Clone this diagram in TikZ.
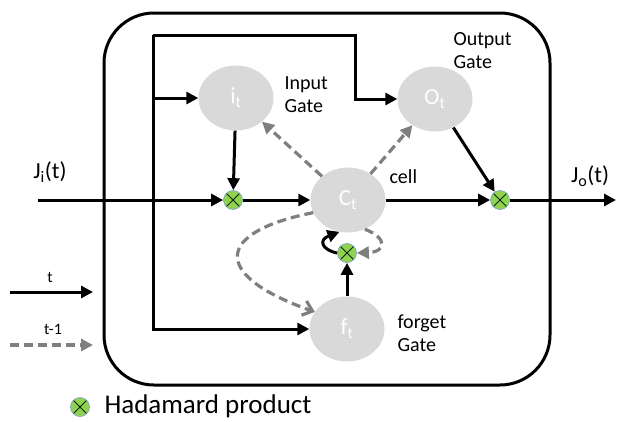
\documentclass[tikz,border=0pt]{standalone}
\usepackage{fontspec}
\setmainfont{Carlito}
\usetikzlibrary{arrows.meta,shapes.geometric}

\definecolor{gatefill}{HTML}{D9D9D9}
\definecolor{hadgreen}{HTML}{92D050}
\definecolor{hadedge}{HTML}{7FA7D0}
\definecolor{prevgray}{HTML}{7F7F7F}

\begin{document}
\begin{tikzpicture}[x=1pt,y=-1pt,
						gatenode/.style={ellipse,fill=gatefill,minimum width=75pt,minimum height=65pt,
						text=white,font=\fontsize{23}{24}\selectfont,inner sep=0pt},
						hprod/.style={circle,fill=hadgreen,draw=hadedge,line width=0.7pt,
						minimum size=19pt,inner sep=0pt,
						path picture={\draw[line width=0.9pt,black!60!green!40!black]
							(path picture bounding box.center) ++(45:10pt) -- ++(225:20pt)
							(path picture bounding box.center) ++(135:10pt) -- ++(-45:20pt);}},
						lbl/.style={font=\fontsize{20}{23}\selectfont,align=left,anchor=west},
						flow/.style={draw,line width=3pt,-{Triangle[length=12pt,width=12pt]}},
						dflow/.style={draw=prevgray,line width=3.2pt,dash pattern=on 9pt off 5pt,
						-{Triangle[length=12pt,width=12pt]}}]

		\useasboundingbox (0,0) rectangle (631,421);

		% cell frame
		\draw[line width=3pt,rounded corners=50pt] (104,13) rectangle (550,385);

		% gates
		\node[gatenode] (it) at (236,98) {i\textsubscript{t}};
		\node[gatenode] (ot) at (435,99) {O\textsubscript{t}};
		\node[gatenode] (ct) at (348,200) {C\textsubscript{t}};
		\node[gatenode] (ft) at (347,329) {f\textsubscript{t}};

		\node[hprod] (h1) at (233,200) {};
		\node[hprod] (h2) at (500,200) {};
		\node[hprod] (h3) at (347,253) {};

		\coordinate (jin) at (38,200);
		\coordinate (jout) at (616,200);
		\coordinate (vl) at (153,35);
		\coordinate (oc) at (355,35);

		% labels
		\node[lbl] (itl) at (281,95) {Input\\Gate};
		\node[lbl] (otl) at (450,51) {Output\\Gate};
		\node[lbl] (ctl) at (386,177) {cell};
		\node[lbl] (ftl) at (394,333) {forget\\Gate};
		\node[font=\fontsize{23}{24}\selectfont] (jil) at (50,172) {J\textsubscript{i}(t)};
		\node[font=\fontsize{23}{24}\selectfont] (jol) at (590,176) {J\textsubscript{o}(t)};

		% main line
		\draw[flow] (jin) -- (h1);
		\draw[flow] (h1) -- (ct);
		\draw[flow] (ct) -- (h2);
		\draw[flow] (h2) -- (jout);

		% inputs to the gates
		\draw[flow] (vl) |- (ft.west);
		\draw[flow] (vl) -- (oc) |- (ot.west);
		\draw[flow] (vl |- it) -- (it);

		\draw[flow] (it) -- (h1);
		\draw[flow] (ot) -- (h2);
		\draw[flow] (ft) -- (h3);
		\draw[flow] (h3.west) .. controls (322,250) and (318,240) .. (ct.255);

		% previous cell state
		\draw[dflow] (ct) -- (it);
		\draw[dflow] (ct) -- (ot);
		\draw[dflow] (ct.-60) .. controls (388,238) and (386,252) .. (h3.east);
		\draw[dflow,-{Straight Barb[length=9pt,width=15pt]}] (ct.200) .. controls (215,232) and (210,275) .. (ft.152);

		% legend
		\coordinate (ta) at (10,292);
		\coordinate (tb) at (93,292);
		\coordinate (pa) at (10,345);
		\coordinate (pb) at (93,345);
		\draw[flow] (ta) -- (tb);
		\draw[dflow] (pa) -- (pb);
		\node[font=\fontsize{16}{18}\selectfont] (tl) at (50,277) {t};
		\node[font=\fontsize{16}{18}\selectfont] (pl) at (53,329) {t-1};

		\node[hprod] (hl) at (80,407) {};
		\node[font=\fontsize{27}{28}\selectfont,anchor=west] (hlt) at (101,406) {Hadamard product};

	\end{tikzpicture}
\end{document}
